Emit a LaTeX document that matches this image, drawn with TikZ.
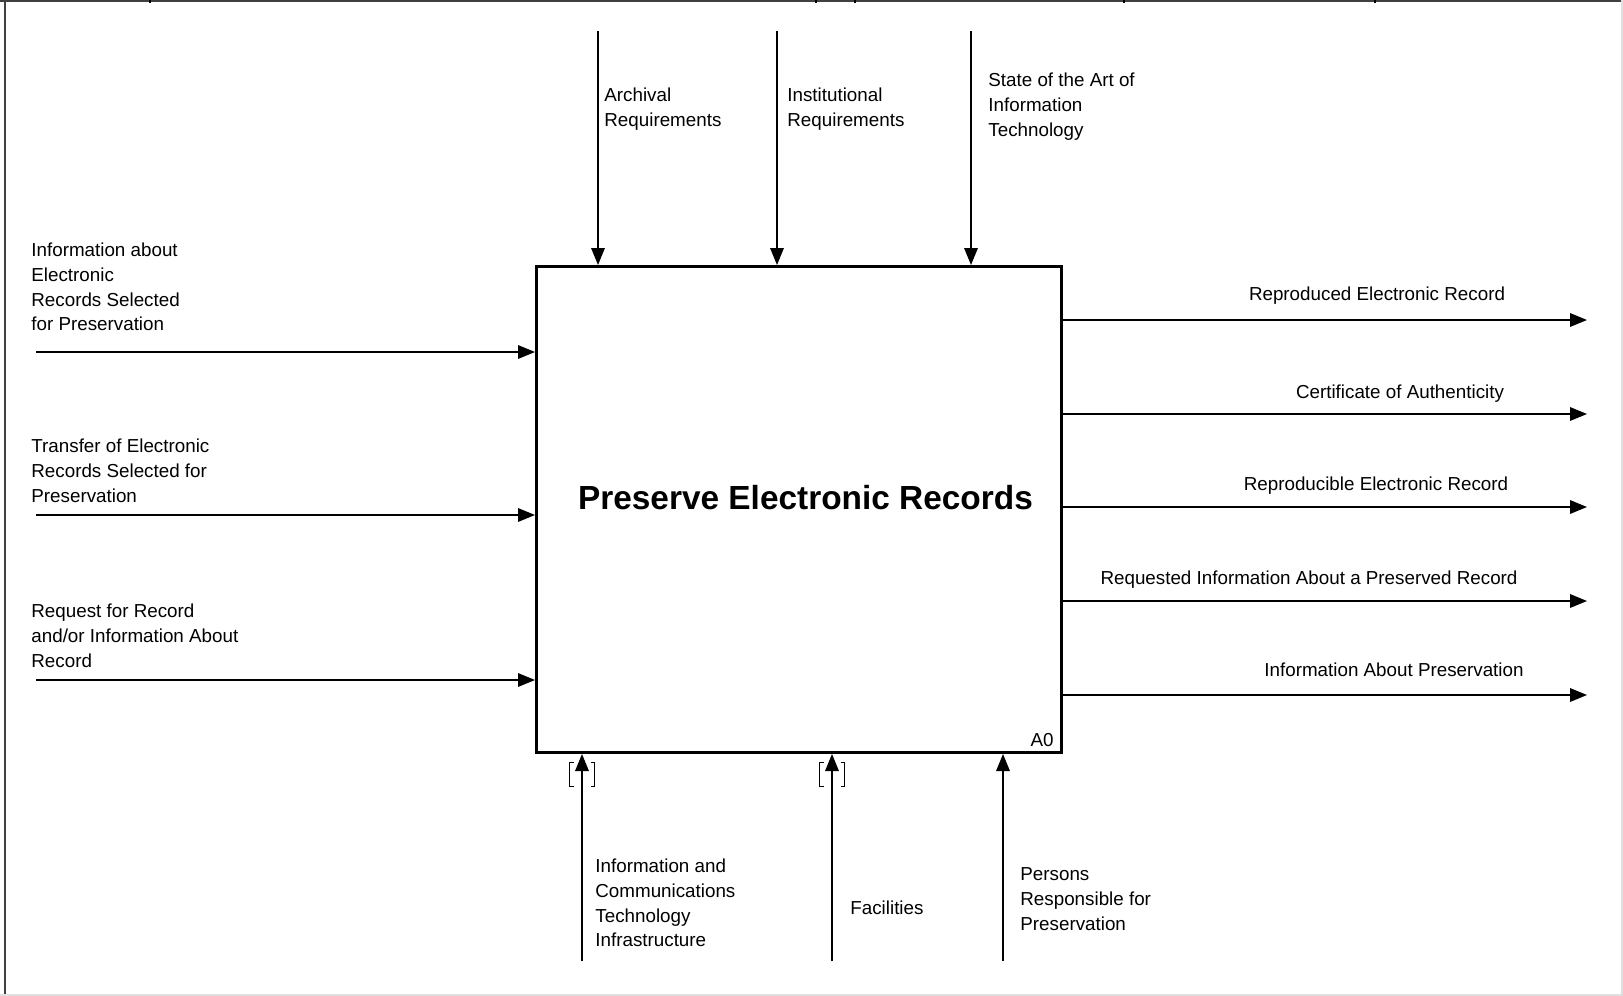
\documentclass[tikz,border=0pt]{standalone}
\usepackage{fontspec}
\setmainfont{Liberation Sans}
\usetikzlibrary{arrows.meta}
\newcommand{\fstrut}{\rule{0pt}{9pt}}
\begin{document}
\begin{tikzpicture}[x=0.5pt,y=-0.5pt,
  lbl/.style={font=\fontsize{9.4}{12.4}\selectfont, inner sep=0pt, align=left, anchor=north west},
  olbl/.style={font=\fontsize{9.4}{12.4}\selectfont, inner sep=0pt, anchor=base},
  flow/.style={line width=0.7pt, -{Triangle[length=8.5pt,width=6.8pt]}},
  brk/.style={line width=0.5pt},
  frame/.style={line width=1pt, draw=black!75},
  edge/.style={line width=0.6pt, draw=black!12}]
\useasboundingbox (0,0) rectangle (1623,996);
% frame
\draw[frame] (5,0) -- (5,996);
\draw[frame] (0,0.5) -- (1623,0.5);
\foreach \tx in {150,816,855,1124,1375} \draw[line width=0.7pt] (\tx,0) -- (\tx,3);
\draw[edge] (1622,0) -- (1622,995) -- (0,995);
% activity box
\node[draw, line width=1.5pt, minimum width=262.5pt, minimum height=243pt, inner sep=0pt] (box) at (799,509.5) {};
\node[font=\fontsize{16.7}{20}\selectfont\bfseries, inner sep=0pt, anchor=base] (title) at (805.5,509) {Preserve Electronic Records};
\node[font=\fontsize{9.4}{12.4}\selectfont, inner sep=0pt, anchor=base east] (a0) at (1054,746) {A0};
% controls (top)
\coordinate (c1) at (598,31);
\coordinate (c2) at (777,31);
\coordinate (c3) at (971,31);
\draw[flow] (c1) -- (c1 |- box.north);
\draw[flow] (c2) -- (c2 |- box.north);
\draw[flow] (c3) -- (c3 |- box.north);
\node[lbl] (lc1) at (604,83) {\fstrut Archival\\Requirements};
\node[lbl] (lc2) at (787,83) {\fstrut Institutional\\Requirements};
\node[lbl] (lc3) at (988,68) {\fstrut State of the Art of\\Information\\Technology};
% inputs (left)
\coordinate (i1) at (36,352);
\coordinate (i2) at (36,515);
\coordinate (i3) at (36,680);
\draw[flow] (i1) -- (i1 -| box.west);
\draw[flow] (i2) -- (i2 -| box.west);
\draw[flow] (i3) -- (i3 -| box.west);
\node[lbl] (li1) at (31,238) {\fstrut Information about\\Electronic\\Records Selected\\for Preservation};
\node[lbl] (li2) at (31,434) {\fstrut Transfer of Electronic\\Records Selected for\\Preservation};
\node[lbl] (li3) at (31,599) {\fstrut Request for Record\\and/or Information About\\Record};
% outputs (right)
\coordinate (o1) at (1587,320);
\coordinate (o2) at (1587,414);
\coordinate (o3) at (1587,507);
\coordinate (o4) at (1587,601);
\coordinate (o5) at (1587,695);
\draw[flow] (o1 -| box.east) -- (o1);
\draw[flow] (o2 -| box.east) -- (o2);
\draw[flow] (o3 -| box.east) -- (o3);
\draw[flow] (o4 -| box.east) -- (o4);
\draw[flow] (o5 -| box.east) -- (o5);
\node[olbl] (lo1) at (1377,300) {Reproduced Electronic Record};
\node[olbl] (lo2) at (1400,398) {Certificate of Authenticity};
\node[olbl] (lo3) at (1376,490) {Reproducible Electronic Record};
\node[olbl] (lo4) at (1309,584) {Requested Information About a Preserved Record};
\node[olbl] (lo5) at (1394,676) {Information About Preservation};
% mechanisms (bottom)
\coordinate (m1) at (582,961);
\coordinate (m2) at (832,961);
\coordinate (m3) at (1003,961);
\draw[flow] (m1) -- (m1 |- box.south);
\draw[flow] (m2) -- (m2 |- box.south);
\draw[flow] (m3) -- (m3 |- box.south);
\foreach \bx in {582,832}{
  \draw[brk] (\bx-8.5,762) -- (\bx-12.5,762) -- (\bx-12.5,786) -- (\bx-8.5,786);
  \draw[brk] (\bx+8.5,762) -- (\bx+12.5,762) -- (\bx+12.5,786) -- (\bx+8.5,786);
}
\node[lbl] (lm1) at (595,854) {\fstrut Information and\\Communications\\Technology\\Infrastructure};
\node[font=\fontsize{9.4}{12.4}\selectfont, inner sep=0pt, anchor=base west] (lm2) at (850,914) {Facilities};
\node[lbl] (lm3) at (1020,862) {\fstrut Persons\\Responsible for\\Preservation};
\end{tikzpicture}
\end{document}
